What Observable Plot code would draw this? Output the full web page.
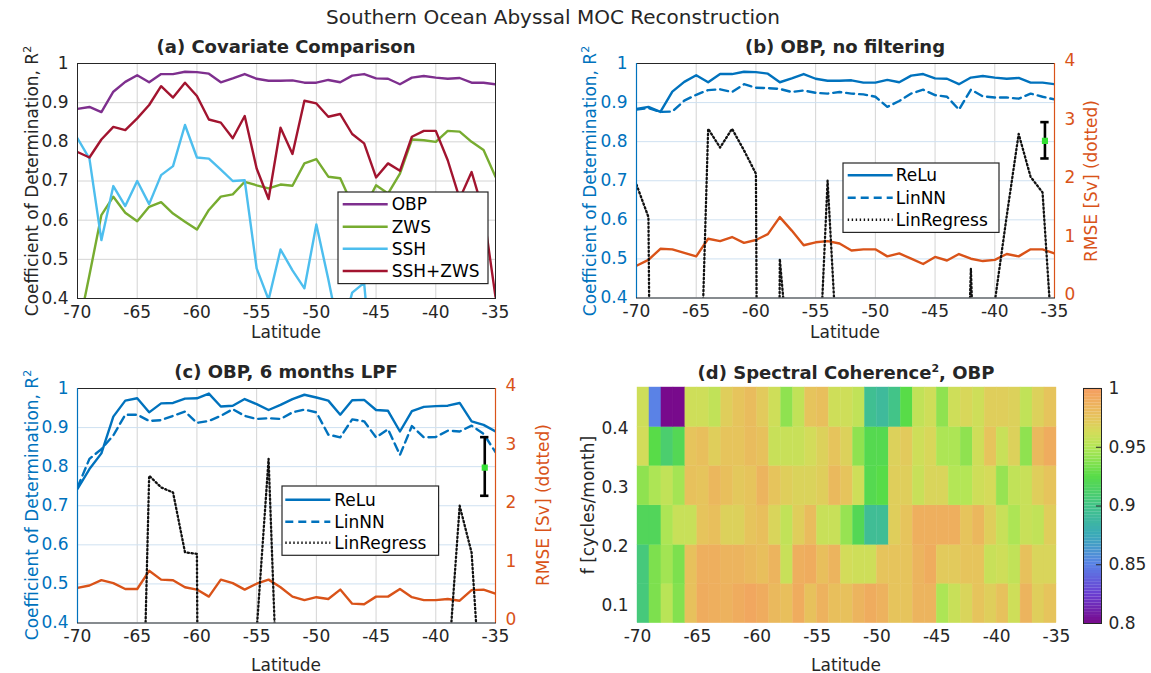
<!DOCTYPE html>
<html><head><meta charset="utf-8">
<script src="https://cdn.jsdelivr.net/npm/d3@7"></script>
<script src="https://cdn.jsdelivr.net/npm/@observablehq/plot@0.6"></script>
<style>
body{margin:0;background:#fff;}
#root{position:relative;width:1151px;height:673px;overflow:hidden;background:#fff;font-family:"DejaVu Sans",sans-serif;color:#262626;}
.t{position:absolute;white-space:nowrap;transform:translate(-50%,-50%);line-height:1;}
.v{position:absolute;white-space:nowrap;transform:translate(-50%,-50%) rotate(-90deg);line-height:1;}
.b{font-weight:bold;font-size:18px;}
</style></head><body><div id="root"></div>
<script>
// ---------- data ----------
const lat = [-70,-69,-68,-67,-66,-65,-64,-63,-62,-61,-60,-59,-58,-57,-56,-55,-54,-53,-52,-51,-50,-49,-48,-47,-46,-45,-44,-43,-42,-41,-40,-39,-38,-37,-36,-35];
const xTicks = [-70,-65,-60,-55,-50,-45,-40,-35];
const r2Ticks = [0.4,0.5,0.6,0.7,0.8,0.9,1];
const rmseTicks = [0,1,2,3,4];
const fTicks = [0.1,0.2,0.3,0.4];
const cbTicks = [0.8,0.85,0.9,0.95,1];

// (a) Covariate comparison (R^2)
const obp = [0.884,0.889,0.876,0.928,0.953,0.970,0.952,0.973,0.973,0.979,0.978,0.974,0.952,0.962,0.973,0.961,0.956,0.956,0.957,0.951,0.951,0.958,0.952,0.969,0.973,0.962,0.961,0.947,0.964,0.968,0.964,0.961,0.963,0.951,0.951,0.947];
const zws = [0.31,0.46,0.613,0.660,0.619,0.597,0.634,0.646,0.617,0.596,0.576,0.626,0.660,0.666,0.698,0.689,0.681,0.691,0.688,0.745,0.756,0.711,0.707,0.64,0.63,0.689,0.668,0.719,0.806,0.804,0.800,0.828,0.826,0.800,0.779,0.711];
const ssh = [0.809,0.757,0.549,0.687,0.636,0.700,0.641,0.715,0.738,0.843,0.760,0.757,0.729,0.700,0.702,0.477,0.397,0.525,0.472,0.426,0.589,0.449,0.30,0.415,0.440,0.10,0.25,0.20,0.30,0.25,0.20,0.25,0.30,0.20,0.25,0.20];
const sshZws = [0.774,0.760,0.806,0.838,0.830,0.860,0.894,0.942,0.913,0.951,0.917,0.857,0.849,0.809,0.866,0.732,0.654,0.836,0.769,0.905,0.898,0.864,0.871,0.820,0.796,0.709,0.745,0.726,0.813,0.828,0.828,0.753,0.655,0.723,0.62,0.404];

// (b) OBP, no filtering
const reluB = [0.884,0.889,0.876,0.928,0.953,0.970,0.952,0.973,0.973,0.979,0.978,0.974,0.952,0.962,0.973,0.961,0.956,0.956,0.957,0.951,0.951,0.958,0.952,0.969,0.973,0.962,0.961,0.947,0.964,0.968,0.964,0.961,0.963,0.951,0.951,0.947];
const linNNB = [0.882,0.886,0.876,0.877,0.905,0.920,0.932,0.934,0.927,0.947,0.938,0.937,0.935,0.927,0.931,0.925,0.923,0.927,0.923,0.921,0.915,0.889,0.904,0.923,0.933,0.919,0.915,0.882,0.933,0.916,0.913,0.913,0.910,0.923,0.915,0.908];
const linRegB = [0.69,0.607,-3,-3,-3,-0.22,0.833,0.785,0.833,0.778,0.718,-5,0.50,0.15,-3,0.02,0.70,0.144,-3,-3,-3,-3,-3,-3,-3,-3,-3,-0.5,0.475,-0.5,0.39,0.61,0.82,0.71,0.67,0.2];
const rmseB = [0.55,0.65,0.84,0.83,0.77,0.71,1.01,0.97,1.04,0.94,0.99,1.09,1.38,1.15,0.90,0.95,0.97,0.93,0.81,0.83,0.83,0.71,0.76,0.67,0.58,0.70,0.64,0.75,0.67,0.63,0.65,0.75,0.71,0.83,0.83,0.76];
const errB = [{lat:-35.8, lo:2.38, hi:3.0, mid:2.68}];

// (c) OBP, 6 months LPF
const reluC = [0.743,0.794,0.834,0.928,0.969,0.975,0.939,0.962,0.963,0.974,0.975,0.987,0.954,0.956,0.973,0.960,0.945,0.958,0.973,0.984,0.977,0.969,0.933,0.970,0.971,0.945,0.943,0.890,0.942,0.953,0.955,0.956,0.963,0.916,0.907,0.890];
const linNNC = [0.747,0.82,0.845,0.88,0.933,0.933,0.917,0.919,0.930,0.941,0.912,0.917,0.930,0.947,0.930,0.922,0.924,0.922,0.939,0.946,0.939,0.882,0.875,0.921,0.916,0.875,0.896,0.830,0.904,0.875,0.876,0.892,0.890,0.905,0.884,0.837];
const linRegC = [-1,-1,-1,-1,-1,-0.48,0.777,0.747,0.734,0.581,0.577,-5,-3,-3,-3,0.38,0.82,-0.02,-1,-1,-1,-1,-1,-1,-1,-1,-1,-1,-1,-1,-1,0.27,0.70,0.58,0.1,-1];
const rmseC = [0.60,0.64,0.73,0.68,0.58,0.58,0.89,0.74,0.73,0.61,0.57,0.45,0.74,0.68,0.57,0.67,0.74,0.61,0.45,0.39,0.44,0.41,0.57,0.33,0.32,0.45,0.45,0.58,0.44,0.39,0.39,0.41,0.38,0.56,0.57,0.50];
const errC = [{lat:-35.9, lo:2.17, hi:3.17, mid:2.65}];

// (d) spectral coherence^2 (rows low -> high frequency, 35 latitude bins)
const fEdges = [0.07,0.137,0.203,0.27,0.337,0.403,0.47];
const coh1 = [0.905,0.935,0.952,0.937,0.977,0.99,0.988,0.986,0.99,0.993,0.99,0.982,0.978,0.99,0.977,0.986,0.978,0.977,0.985,0.99,0.986,0.975,0.975,0.985,0.985,0.948,0.958,0.966,0.975,0.97,0.977,0.96,0.985,0.97,0.975];
const coh2 = [0.905,0.935,0.945,0.935,0.977,0.988,0.988,0.985,0.985,0.982,0.978,0.985,0.958,0.988,0.99,0.978,0.985,0.962,0.96,0.96,0.975,0.975,0.975,0.985,0.99,0.972,0.972,0.975,0.975,0.958,0.96,0.955,0.977,0.966,0.966];
const coh3 = [0.918,0.918,0.948,0.958,0.958,0.975,0.978,0.968,0.968,0.975,0.978,0.966,0.955,0.97,0.98,0.958,0.958,0.942,0.92,0.893,0.893,0.97,0.975,0.988,0.988,0.988,0.988,0.975,0.983,0.97,0.958,0.948,0.958,0.955,0.97];
const coh4 = [0.94,0.948,0.955,0.946,0.977,0.975,0.983,0.978,0.973,0.975,0.985,0.975,0.97,0.967,0.967,0.97,0.982,0.975,0.96,0.922,0.925,0.97,0.97,0.958,0.966,0.966,0.95,0.95,0.96,0.963,0.942,0.955,0.958,0.97,0.975];
const coh5 = [0.962,0.925,0.91,0.92,0.975,0.978,0.97,0.975,0.975,0.98,0.977,0.958,0.958,0.958,0.962,0.968,0.975,0.968,0.94,0.922,0.922,0.968,0.972,0.96,0.965,0.948,0.948,0.94,0.96,0.975,0.958,0.968,0.94,0.982,0.99];
const coh6 = [0.96,0.85,0.80,0.80,0.96,0.96,0.955,0.97,0.975,0.98,0.972,0.96,0.94,0.955,0.975,0.978,0.96,0.96,0.955,0.895,0.89,0.9,0.925,0.955,0.96,0.94,0.96,0.965,0.96,0.97,0.97,0.968,0.955,0.968,0.975];
const cohRows = [coh1,coh2,coh3,coh4,coh5,coh6];

// colormap stops
const cDomain = [0.8,0.825,0.85,0.875,0.9,0.925,0.95,0.9625,0.975,0.9875,1.0];
const cRange = ["#780a8c","#6a3fd2","#5a82e6","#3aaab8","#42c488","#58dc48","#b4e656","#d4dc5a","#e6c45c","#eeb05e","#f59c60"];

// ---------- helpers ----------
const BLUE = "#0072BD", ORANGE = "#D95319", PURPLE = "#7E2F8E", GREEN = "#77AC30", CYAN = "#4DBEEE", RED = "#A2142F";
const DOTS = "1.4,2.6";
const root = document.getElementById("root");
const toR2 = r => 0.4 + r * 0.15;
const fmt = v => String(Math.round(v * 100) / 100);
const style = {fontFamily: "DejaVu Sans", fontSize: "17px", color: "#262626", background: "transparent", overflow: "visible"};

function place(el, left, top) {
  el.style.position = "absolute";
  el.style.left = left + "px";
  el.style.top = top + "px";
  root.appendChild(el);
}
function text(str, x, y, cls, color, size) {
  const d = document.createElement("div");
  d.className = cls;
  d.innerHTML = str;
  d.style.left = x + "px"; d.style.top = y + "px";
  if (color) d.style.color = color;
  if (size) d.style.fontSize = size + "px";
  root.appendChild(d);
}
function panel(box, opts, marks) {
  const mL = 70, mR = opts.mR ?? 12, mT = 10, mB = 30;
  const p = Plot.plot({
    width: box.x1 - box.x0 + mL + mR,
    height: box.y1 - box.y0 + mT + mB,
    marginLeft: mL, marginRight: mR, marginTop: mT, marginBottom: mB,
    x: {domain: [lat[0], lat[lat.length - 1]]},
    y: opts.y,
    color: opts.color,
    style,
    marks
  });
  place(p, box.x0 - mL, box.y0 - mT);
}
function legend(x, y, w, h, rowsY, lineX1, lineX2, textX, entries) {
  const svg = d3.create("svg").attr("width", w + 2).attr("height", h + 2)
    .style("position", "absolute").style("left", (x - 1) + "px").style("top", (y - 1) + "px").style("overflow", "visible");
  svg.append("rect").attr("x", 1).attr("y", 1).attr("width", w).attr("height", h)
    .attr("fill", "white").attr("stroke", "#262626").attr("stroke-width", 1.2);
  entries.forEach((e, i) => {
    const cy = rowsY[i] - y + 1;
    svg.append("line").attr("x1", lineX1 - x + 1).attr("x2", lineX2 - x + 1).attr("y1", cy).attr("y2", cy)
      .attr("stroke", e.color).attr("stroke-width", 2.4).attr("stroke-dasharray", e.dash || null);
    svg.append("text").attr("x", textX - x + 1).attr("y", cy).attr("dy", "0.35em")
      .attr("font-family", "DejaVu Sans").attr("font-size", 17).attr("fill", "#000").text(e.label);
  });
  root.appendChild(svg.node());
}

const rowsA = lat.map((x, i) => ({lat: x, obp: obp[i], zws: zws[i], ssh: ssh[i], sshZws: sshZws[i]}));
const rowsB = lat.map((x, i) => ({lat: x, relu: reluB[i], lin: linNNB[i], reg: linRegB[i], rmse: toR2(rmseB[i])}));
const rowsC = lat.map((x, i) => ({lat: x, relu: reluC[i], lin: linNNC[i], reg: linRegC[i], rmse: toR2(rmseC[i])}));

const xAxis = () => Plot.axisX(xTicks, {tickSize: 0, tickPadding: 7, tickFormat: d => String(d), label: null, fill: "#262626"});
const xGrid = () => Plot.gridX(xTicks, {stroke: "#d4d4d4", strokeOpacity: 1});

// ---------- panel (a) ----------
const boxA = {x0: 77, x1: 495, y0: 63.3, y1: 298.3};
panel(boxA, {y: {domain: [0.4, 1]}}, [
  xGrid(),
  Plot.gridY(r2Ticks, {stroke: "#d4d4d4", strokeOpacity: 1}),
  Plot.line(rowsA, {x: "lat", y: "obp", stroke: PURPLE, strokeWidth: 2.4, clip: true}),
  Plot.line(rowsA, {x: "lat", y: "zws", stroke: GREEN, strokeWidth: 2.4, clip: true}),
  Plot.line(rowsA, {x: "lat", y: "ssh", stroke: CYAN, strokeWidth: 2.4, clip: true}),
  Plot.line(rowsA, {x: "lat", y: "sshZws", stroke: RED, strokeWidth: 2.4, clip: true}),
  Plot.frame({stroke: "#262626"}),
  xAxis(),
  Plot.axisY(r2Ticks, {tickSize: 0, tickPadding: 9, tickFormat: fmt, label: null, fill: "#262626"})
]);

// ---------- panels (b) and (c) ----------
function dualPanel(box, rows, err) {
  panel(box, {y: {domain: [0.4, 1]}, mR: 50}, [
    xGrid(),
    Plot.gridY(r2Ticks, {stroke: "#cfe1f1", strokeOpacity: 1}),
    Plot.line(rows, {x: "lat", y: "rmse", stroke: ORANGE, strokeWidth: 2.4, clip: true}),
    Plot.line(rows, {x: "lat", y: "relu", stroke: BLUE, strokeWidth: 2.4, clip: true}),
    Plot.line(rows, {x: "lat", y: "lin", stroke: BLUE, strokeWidth: 2.4, strokeDasharray: "8,5", clip: true}),
    Plot.line(rows, {x: "lat", y: "reg", stroke: "#111", strokeWidth: 2.3, strokeDasharray: DOTS, clip: true}),
    Plot.ruleX(err, {x: "lat", y1: d => toR2(d.lo), y2: d => toR2(d.hi), stroke: "#000", strokeWidth: 2.6}),
    Plot.ruleY(err, {y: d => toR2(d.lo), x1: d => d.lat - 0.35, x2: d => d.lat + 0.35, stroke: "#000", strokeWidth: 2.6}),
    Plot.ruleY(err, {y: d => toR2(d.hi), x1: d => d.lat - 0.35, x2: d => d.lat + 0.35, stroke: "#000", strokeWidth: 2.6}),
    Plot.dot(err, {x: "lat", y: d => toR2(d.mid), symbol: "square", r: 2.6, fill: "#33e033", stroke: "#33e033"}),
    Plot.frame({stroke: "#262626"}),
    Plot.ruleX([lat[0]], {stroke: BLUE, strokeWidth: 1.2}),
    Plot.ruleX([lat[lat.length - 1]], {stroke: ORANGE, strokeWidth: 1.2}),
    xAxis(),
    Plot.axisY(r2Ticks, {anchor: "left", tickSize: 0, tickPadding: 9, tickFormat: fmt, label: null, fill: BLUE}),
    Plot.axisY(rmseTicks.map(toR2), {anchor: "right", tickSize: 0, tickPadding: 10, dy: -3, tickFormat: d => fmt((d - 0.4) / 0.15), label: null, fill: ORANGE})
  ]);
}
const boxB = {x0: 636, x1: 1054, y0: 63.3, y1: 297.8};
const boxC = {x0: 77, x1: 495, y0: 387.5, y1: 622};
dualPanel(boxB, rowsB, errB);
dualPanel(boxC, rowsC, errC);

// ---------- panel (d) heatmap ----------
const cells = [];
cohRows.forEach((row, i) => row.forEach((v, k) => cells.push({x1: lat[k], x2: lat[k + 1], y1: fEdges[i], y2: fEdges[i + 1], v})));
const colorScale = {type: "linear", domain: cDomain, range: cRange, interpolate: "rgb", clamp: true};
const boxD = {x0: 636.7, x1: 1055.7, y0: 387, y1: 622.7};
panel(boxD, {y: {domain: [fEdges[0], fEdges[fEdges.length - 1]]}, color: colorScale}, [
  Plot.rect(cells, {x1: "x1", x2: "x2", y1: "y1", y2: "y2", fill: "v", stroke: "v", strokeWidth: 0.4}),
  xAxis(),
  Plot.axisY(fTicks, {tickSize: 0, tickPadding: 9, tickFormat: fmt, label: null, fill: "#262626"})
]);

// colorbar
const cbSteps = d3.range(0.8, 1.0, 0.0025);
const cb = Plot.plot({
  width: 18 + 60, height: 235 + 20, marginLeft: 0, marginRight: 60, marginTop: 10, marginBottom: 10,
  x: {domain: [0, 1], axis: null},
  y: {domain: [cbTicks[0], cbTicks[cbTicks.length - 1]]},
  color: colorScale,
  style,
  marks: [
    Plot.rect(cbSteps, {x1: 0, x2: 1, y1: d => d, y2: d => d + 0.0026, fill: d => d + 0.00125}),
    Plot.ruleY(cbTicks, {x1: 0.72, x2: 1, stroke: "#262626"}),
    Plot.frame({stroke: "#262626"}),
    Plot.axisY(cbTicks, {anchor: "right", tickSize: 0, tickPadding: 7, tickFormat: fmt, label: null, fill: "#262626"})
  ]
});
place(cb, 1083.3, 387.7 - 10);

// ---------- legends ----------
legend(338.3, 191.7, 150, 91.6, [204, 226.5, 248.5, 270.7], 343, 388, 392, [
  {label: "OBP", color: PURPLE}, {label: "ZWS", color: GREEN}, {label: "SSH", color: CYAN}, {label: "SSH+ZWS", color: RED}
]);
const legB = [{label: "ReLu", color: BLUE}, {label: "LinNN", color: BLUE, dash: "8,5"}, {label: "LinRegress", color: "#111", dash: DOTS}];
legend(843.3, 163.3, 156, 69.4, [175.5, 198, 220], 848, 893, 896, legB);
legend(281.7, 485.7, 156.6, 69.3, [499.5, 521.5, 542.5], 285, 330, 334, legB);

// ---------- titles & labels ----------
text("Southern Ocean Abyssal MOC Reconstruction", 553, 17, "t", "#262626", 20);
text("(a) Covariate Comparison", 286, 47, "t b");
text("(b) OBP, no filtering", 845, 47, "t b");
text("(c) OBP, 6 months LPF", 286, 372, "t b");
text("(d) Spectral Coherence<sup style='font-size:11px;vertical-align:7px'>2</sup>, OBP", 846, 372, "t b");
text("Latitude", 286, 332, "t", "#262626", 17);
text("Latitude", 845, 332, "t", "#262626", 17);
text("Latitude", 286, 665, "t", "#262626", 17);
text("Latitude", 846, 665, "t", "#262626", 17);
const r2lab = "Coefficient of Determination, R<sup style='font-size:11px;vertical-align:7px'>2</sup>";
text(r2lab, 31, 181, "v", "#262626", 17);
text(r2lab, 589, 181, "v", BLUE, 17);
text("RMSE [Sv] (dotted)", 1091, 181, "v", ORANGE, 17);
text(r2lab, 31, 505, "v", BLUE, 17);
text("RMSE [Sv] (dotted)", 543, 505, "v", ORANGE, 17);
text("f [cycles/month]", 588, 505, "v", "#262626", 17);
</script></body></html>
